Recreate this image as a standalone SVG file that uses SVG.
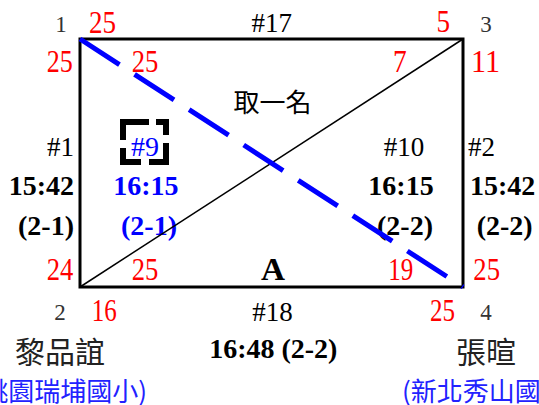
<svg xmlns="http://www.w3.org/2000/svg" width="539" height="405" viewBox="0 0 539 405">
<style>
text{font-family:"Liberation Serif","Times New Roman",serif}
.n{font-size:27px;fill:#000}
.b{font-size:28px;font-weight:bold;fill:#000}
.bb{font-size:28px;font-weight:bold;fill:#0000ff}
.r{font-size:31px;fill:#ff0000}
.g{font-size:23px;fill:#333}
.c{font-family:"Noto Sans CJK TC","Noto Sans CJK SC",sans-serif;font-size:30px;fill:#222}
.s{font-family:"Noto Sans CJK TC","Noto Sans CJK SC",sans-serif;font-size:26px;fill:#2222ff}
.m{text-anchor:middle}
.e{text-anchor:end}
</style>
<rect width="539" height="405" fill="#fff"/>
<g id="court">
<rect x="80" y="39" width="383" height="248" fill="none" stroke="#000" stroke-width="3"/>
</g>
<g id="corner-labels">
<text class="g m" x="61" y="31.5">1</text>
<text class="g m" x="486" y="31.5">3</text>
<text class="g m" x="60" y="320">2</text>
<text class="g m" x="486" y="320">4</text>
</g>
<g id="scores">
<text class="r" x="89" y="32.5" textLength="27" lengthAdjust="spacingAndGlyphs">25</text>
<text class="r" x="436.5" y="31.5" textLength="13.5" lengthAdjust="spacingAndGlyphs">5</text>
<text class="r" x="46.7" y="71.7" textLength="26" lengthAdjust="spacingAndGlyphs">25</text>
<text class="r" x="131.7" y="71.7" textLength="26.6" lengthAdjust="spacingAndGlyphs">25</text>
<text class="r" x="393" y="71.7" textLength="13.7" lengthAdjust="spacingAndGlyphs">7</text>
<text class="r" x="471" y="72" textLength="29" lengthAdjust="spacingAndGlyphs">11</text>
<text class="r" x="46.7" y="280" textLength="26.6" lengthAdjust="spacingAndGlyphs">24</text>
<text class="r" x="131.7" y="280" textLength="26.6" lengthAdjust="spacingAndGlyphs">25</text>
<text class="r" x="388.3" y="280" textLength="25" lengthAdjust="spacingAndGlyphs">19</text>
<text class="r" x="473.3" y="280" textLength="26.7" lengthAdjust="spacingAndGlyphs">25</text>
<text class="r" x="91.7" y="321" textLength="25" lengthAdjust="spacingAndGlyphs">16</text>
<text class="r" x="430" y="321" textLength="25" lengthAdjust="spacingAndGlyphs">25</text>
</g>
<g id="match-17">
<text class="n m" x="271.7" y="31.5">#17</text>
</g>
<g id="title">
<text class="m" x="272.5" y="111.5" style="font-family:'Noto Sans CJK TC','Noto Sans CJK SC',sans-serif;font-size:26px;fill:#000">取一名</text>
</g>
<g id="match-1">
<text class="n e" x="74" y="156">#1</text>
<text class="b e" x="74" y="195">15:42</text>
<text class="b e" x="74" y="235">(2-1)</text>
</g>
<g id="match-9">
<path d="M156 122H166V162H123V122H149" fill="none" stroke="#000" stroke-width="6" stroke-dasharray="23 8 36 8 32 8 44"/>
<text class="m" x="145" y="156" style="font-size:28px;fill:#0000ff">#9</text>
<text class="bb m" x="145.8" y="195">16:15</text>
<text class="bb m" x="149" y="235">(2-1)</text>
</g>
<g id="match-10">
<text class="n m" x="404" y="156">#10</text>
<text class="b m" x="401" y="195">16:15</text>
<text class="b m" x="405" y="235">(2-2)</text>
</g>
<g id="match-2">
<text class="n" x="468" y="156">#2</text>
<text class="b" x="470" y="195">15:42</text>
<text class="b" x="476.7" y="235">(2-2)</text>
</g>
<g id="court-A">
<text x="261" y="279.5" textLength="24" lengthAdjust="spacingAndGlyphs" style="font-size:31px;font-weight:bold;fill:#000">A</text>
</g>
<g id="match-18">
<text class="n m" x="272.5" y="321">#18</text>
<text class="b m" x="273.3" y="358">16:48 (2-2)</text>
</g>
<g id="player-left">
<text class="c m" x="60" y="363">黎品誼</text>
<text class="s e" x="147" y="401">(桃園瑞埔國小)</text>
</g>
<g id="player-right">
<text class="c m" x="486" y="363">張暄</text>
<text class="s" x="402" y="401">(新北秀山國小)</text>
</g>
<g id="connectors">
<line x1="80" y1="287" x2="463" y2="39" stroke="#000" stroke-width="1.5"/>
<line x1="80" y1="39" x2="463" y2="287" stroke="#0000ff" stroke-width="5" stroke-dasharray="47 18"/>
</g>
</svg>
